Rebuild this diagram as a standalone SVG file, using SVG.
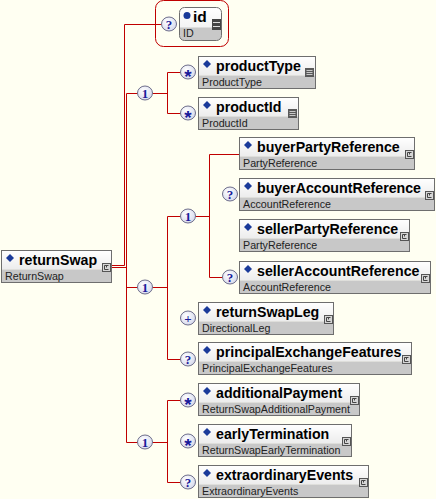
<svg xmlns="http://www.w3.org/2000/svg" xmlns:xlink="http://www.w3.org/1999/xlink" width="436" height="499" viewBox="0 0 436 499">
<style>
.bg{fill:#fffff2}
.hd{fill:url(#hdg)}
.tp{fill:#c8c8c8}
.bd{fill:none;stroke:#6e6e6e;stroke-width:1}
.dm{fill:#1a3a9a}
.nm{font-family:"Liberation Sans",Arial,sans-serif;font-weight:bold;font-size:14.2px;fill:#000}
.ty{font-family:"Liberation Sans",Arial,sans-serif;font-size:10.7px;fill:#222}
.cc{fill:url(#cg);stroke:#6d6d8a;stroke-width:1}
.ct{font-family:"Liberation Serif","Times New Roman",serif;font-weight:bold;font-size:13px;fill:#1a1a9a;text-anchor:middle}
.cs{font-family:"Liberation Sans",Arial,sans-serif;font-weight:bold;font-size:19px;fill:#1a1a9a;text-anchor:middle}
.cn{fill:none;stroke:#c00000;stroke-width:1}
</style>
<defs>
<linearGradient id="hdg" x1="0" y1="0" x2="0" y2="1">
<stop offset="0" stop-color="#ffffff"/>
<stop offset="1" stop-color="#ececec"/>
</linearGradient>
<radialGradient id="cg" cx="0.4" cy="0.35" r="0.7">
<stop offset="0" stop-color="#ffffff"/>
<stop offset="1" stop-color="#d4d8ec"/>
</radialGradient>
<g id="cx">
<rect x="0.5" y="0.5" width="8" height="8" fill="#d6d6d6" stroke="#555"/>
<path d="M6.5,2.5 H2.5 V6.5 H6.5 M4.5,2.5 V4.5" fill="none" stroke="#444" stroke-width="1"/>
</g>
<g id="sx">
<rect x="0" y="0" width="9" height="9" fill="#5a5a5a"/>
<path d="M1.5,2.5 H7.5 M1.5,4.5 H7.5 M1.5,6.5 H7.5" stroke="#c8c8c8" stroke-width="1"/>
</g>
</defs>
<rect class="bg" x="0" y="0" width="436" height="499"/>

<g id="connectors">
<path class="cn" d="M112,265.5 H124.5 V24.5 H155"/>
<path class="cn" d="M112,267.5 H126.5"/>
<path class="cn" d="M126.5,93.5 V442.5"/>
<path class="cn" d="M126.5,93.5 H138 M152,93.5 H167.5 M167.5,72.5 V113.5 M167.5,72.5 H181 M167.5,113.5 H181"/>
<path class="cn" d="M126.5,287.5 H138 M152,287.5 H167.5 M167.5,216.5 V359.5 M167.5,216.5 H181 M167.5,359.5 H181"/>
<path class="cn" d="M195,216.5 H209.5 M209.5,154.5 V277.5 M209.5,154.5 H239 M209.5,277.5 H223"/>
<path class="cn" d="M126.5,442.5 H138 M152,442.5 H167.5 M167.5,400.5 V482.5 M167.5,400.5 H181 M167.5,482.5 H181"/>
<path class="cn" d="M155,24.5 H162"/>
</g>

<g id="compositors">
<g id="seq-top"><ellipse class="cc" cx="145" cy="93" rx="7.5" ry="7"/><text class="ct" x="145" y="98">1</text></g>
<g id="seq-mid"><ellipse class="cc" cx="145" cy="287" rx="7.5" ry="7"/><text class="ct" x="145" y="292">1</text></g>
<g id="seq-parties"><ellipse class="cc" cx="188" cy="216" rx="7.5" ry="7"/><text class="ct" x="188" y="221">1</text></g>
<g id="seq-bottom"><ellipse class="cc" cx="145" cy="442" rx="7.5" ry="7"/><text class="ct" x="145" y="447">1</text></g>
<g id="card-id"><ellipse class="cc" cx="169" cy="24" rx="7.5" ry="7"/><text class="ct" x="169" y="29">?</text></g>
<g id="card-productType"><ellipse class="cc" cx="188" cy="72" rx="7.5" ry="7"/><text class="cs" x="188" y="83">*</text></g>
<g id="card-productId"><ellipse class="cc" cx="188" cy="113" rx="7.5" ry="7"/><text class="cs" x="188" y="124">*</text></g>
<g id="card-buyerAccountReference"><ellipse class="cc" cx="230" cy="194" rx="7.5" ry="7"/><text class="ct" x="230" y="199">?</text></g>
<g id="card-sellerAccountReference"><ellipse class="cc" cx="230" cy="277" rx="7.5" ry="7"/><text class="ct" x="230" y="282">?</text></g>
<g id="card-returnSwapLeg"><ellipse class="cc" cx="188" cy="318" rx="7.5" ry="7"/><text class="ct" x="188" y="323">+</text></g>
<g id="card-principalExchangeFeatures"><ellipse class="cc" cx="188" cy="359" rx="7.5" ry="7"/><text class="ct" x="188" y="364">?</text></g>
<g id="card-additionalPayment"><ellipse class="cc" cx="188" cy="400" rx="7.5" ry="7"/><text class="cs" x="188" y="411">*</text></g>
<g id="card-earlyTermination"><ellipse class="cc" cx="188" cy="441" rx="7.5" ry="7"/><text class="cs" x="188" y="452">*</text></g>
<g id="card-extraordinaryEvents"><ellipse class="cc" cx="188" cy="482" rx="7.5" ry="7"/><text class="ct" x="188" y="487">?</text></g>
</g>

<g id="n-returnSwap" transform="translate(1,250)">
<rect class="hd" x="0.5" y="0.5" width="110" height="19"/>
<rect class="tp" x="0.5" y="19.5" width="110" height="13"/>
<rect class="bd" x="0.5" y="0.5" width="110" height="32"/>
<path class="dm" d="M9,4 l4,4 l-4,4 l-4,-4z"/>
<text class="nm" x="18" y="15">returnSwap</text>
<text class="ty" x="4" y="30">ReturnSwap</text>
<use href="#cx" x="101" y="13"/>
</g>

<g id="n-id">
<rect x="155.5" y="0.5" width="73" height="46" rx="8" fill="none" stroke="#c00000"/>
<g transform="translate(179,7)">
<rect x="0.5" y="0.5" width="42" height="33" rx="5" fill="url(#hdg)"/>
<path d="M0.5,20.5 H42.5 V28.5 a5,5 0 0 1 -5,5 H5.5 a5,5 0 0 1 -5,-5z" fill="#c8c8c8"/>
<rect class="bd" x="0.5" y="0.5" width="42" height="33" rx="5"/>
<circle cx="8" cy="8.5" r="3.5" fill="#1a3a9a"/>
<text class="nm" x="14" y="15" style="font-size:15.5px">id</text>
<text class="ty" x="4" y="30">ID</text>
<rect x="33" y="12" width="9" height="11" fill="#444"/>
<path d="M34,15.5 H41 M34,19.5 H41" stroke="#ddd" stroke-width="1"/>
</g>
</g>

<g id="n-productType" transform="translate(198,56)">
<rect class="hd" x="0.5" y="0.5" width="117" height="19"/>
<rect class="tp" x="0.5" y="19.5" width="117" height="13"/>
<rect class="bd" x="0.5" y="0.5" width="117" height="32"/>
<path class="dm" d="M9,4 l4,4 l-4,4 l-4,-4z"/>
<text class="nm" x="18" y="15">productType</text>
<text class="ty" x="4" y="30">ProductType</text>
<use href="#sx" x="107" y="12"/>
</g>

<g id="n-productId" transform="translate(198,97)">
<rect class="hd" x="0.5" y="0.5" width="100" height="19"/>
<rect class="tp" x="0.5" y="19.5" width="100" height="13"/>
<rect class="bd" x="0.5" y="0.5" width="100" height="32"/>
<path class="dm" d="M9,4 l4,4 l-4,4 l-4,-4z"/>
<text class="nm" x="18" y="15">productId</text>
<text class="ty" x="4" y="30">ProductId</text>
<use href="#sx" x="90" y="12"/>
</g>

<g id="n-buyerPartyReference" transform="translate(239,137)">
<rect class="hd" x="0.5" y="0.5" width="175" height="19"/>
<rect class="tp" x="0.5" y="19.5" width="175" height="13"/>
<rect class="bd" x="0.5" y="0.5" width="175" height="32"/>
<path class="dm" d="M9,4 l4,4 l-4,4 l-4,-4z"/>
<text class="nm" x="18" y="15">buyerPartyReference</text>
<text class="ty" x="4" y="30">PartyReference</text>
<use href="#cx" x="166" y="13"/>
</g>

<g id="n-buyerAccountReference" transform="translate(239,178)">
<rect class="hd" x="0.5" y="0.5" width="195" height="19"/>
<rect class="tp" x="0.5" y="19.5" width="195" height="13"/>
<rect class="bd" x="0.5" y="0.5" width="195" height="32"/>
<path class="dm" d="M9,4 l4,4 l-4,4 l-4,-4z"/>
<text class="nm" x="18" y="15">buyerAccountReference</text>
<text class="ty" x="4" y="30">AccountReference</text>
<use href="#cx" x="186" y="13"/>
</g>

<g id="n-sellerPartyReference" transform="translate(239,219)">
<rect class="hd" x="0.5" y="0.5" width="170" height="19"/>
<rect class="tp" x="0.5" y="19.5" width="170" height="13"/>
<rect class="bd" x="0.5" y="0.5" width="170" height="32"/>
<path class="dm" d="M9,4 l4,4 l-4,4 l-4,-4z"/>
<text class="nm" x="18" y="15">sellerPartyReference</text>
<text class="ty" x="4" y="30">PartyReference</text>
<use href="#cx" x="161" y="13"/>
</g>

<g id="n-sellerAccountReference" transform="translate(239,261)">
<rect class="hd" x="0.5" y="0.5" width="191" height="19"/>
<rect class="tp" x="0.5" y="19.5" width="191" height="13"/>
<rect class="bd" x="0.5" y="0.5" width="191" height="32"/>
<path class="dm" d="M9,4 l4,4 l-4,4 l-4,-4z"/>
<text class="nm" x="18" y="15">sellerAccountReference</text>
<text class="ty" x="4" y="30">AccountReference</text>
<use href="#cx" x="182" y="13"/>
</g>

<g id="n-returnSwapLeg" transform="translate(198,302)">
<rect class="hd" x="0.5" y="0.5" width="135" height="19"/>
<rect class="tp" x="0.5" y="19.5" width="135" height="13"/>
<rect class="bd" x="0.5" y="0.5" width="135" height="32"/>
<path class="dm" d="M9,4 l4,4 l-4,4 l-4,-4z"/>
<text class="nm" x="18" y="15">returnSwapLeg</text>
<text class="ty" x="4" y="30">DirectionalLeg</text>
<use href="#cx" x="126" y="13"/>
</g>

<g id="n-principalExchangeFeatures" transform="translate(198,342)">
<rect class="hd" x="0.5" y="0.5" width="213" height="19"/>
<rect class="tp" x="0.5" y="19.5" width="213" height="13"/>
<rect class="bd" x="0.5" y="0.5" width="213" height="32"/>
<path class="dm" d="M9,4 l4,4 l-4,4 l-4,-4z"/>
<text class="nm" x="18" y="15">principalExchangeFeatures</text>
<text class="ty" x="4" y="30">PrincipalExchangeFeatures</text>
<use href="#cx" x="204" y="13"/>
</g>

<g id="n-additionalPayment" transform="translate(198,383)">
<rect class="hd" x="0.5" y="0.5" width="161" height="19"/>
<rect class="tp" x="0.5" y="19.5" width="161" height="13"/>
<rect class="bd" x="0.5" y="0.5" width="161" height="32"/>
<path class="dm" d="M9,4 l4,4 l-4,4 l-4,-4z"/>
<text class="nm" x="18" y="15">additionalPayment</text>
<text class="ty" x="4" y="30">ReturnSwapAdditionalPayment</text>
<use href="#cx" x="152" y="13"/>
</g>

<g id="n-earlyTermination" transform="translate(198,424)">
<rect class="hd" x="0.5" y="0.5" width="153" height="19"/>
<rect class="tp" x="0.5" y="19.5" width="153" height="13"/>
<rect class="bd" x="0.5" y="0.5" width="153" height="32"/>
<path class="dm" d="M9,4 l4,4 l-4,4 l-4,-4z"/>
<text class="nm" x="18" y="15">earlyTermination</text>
<text class="ty" x="4" y="30">ReturnSwapEarlyTermination</text>
<use href="#cx" x="144" y="13"/>
</g>

<g id="n-extraordinaryEvents" transform="translate(198,465)">
<rect class="hd" x="0.5" y="0.5" width="170" height="19"/>
<rect class="tp" x="0.5" y="19.5" width="170" height="13"/>
<rect class="bd" x="0.5" y="0.5" width="170" height="32"/>
<path class="dm" d="M9,4 l4,4 l-4,4 l-4,-4z"/>
<text class="nm" x="18" y="15">extraordinaryEvents</text>
<text class="ty" x="4" y="30">ExtraordinaryEvents</text>
<use href="#cx" x="161" y="13"/>
</g>
</svg>
